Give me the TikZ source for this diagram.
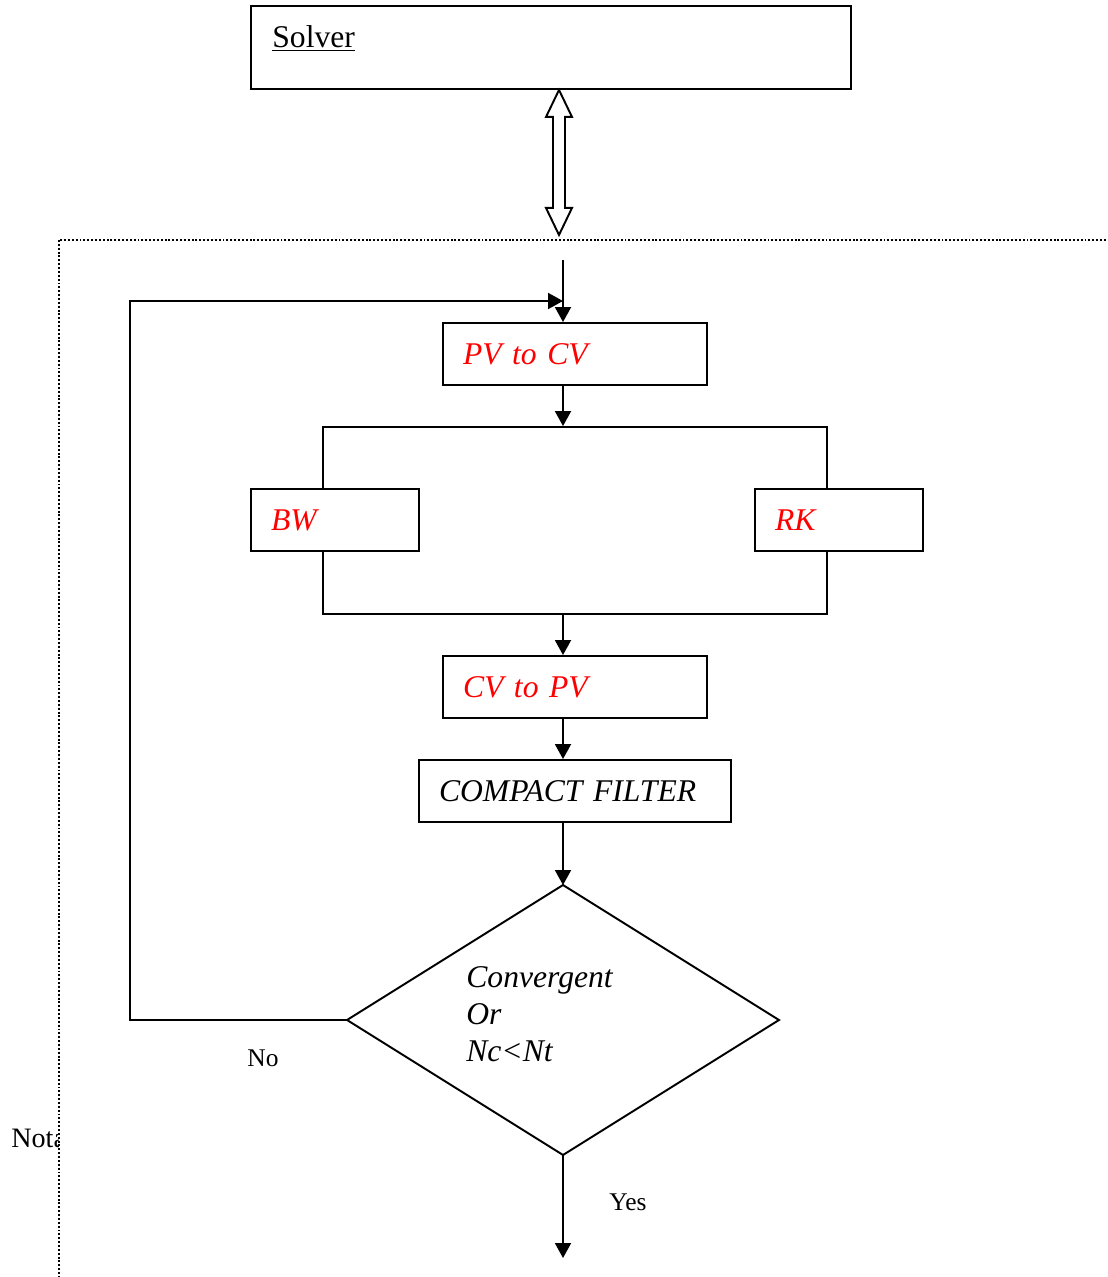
\documentclass[tikz,border=0pt]{standalone}
\usepackage{fontspec}
\setmainfont{Liberation Serif}
\usetikzlibrary{arrows.meta,shapes.geometric}

\begin{document}
\begin{tikzpicture}
[x=0.02cm,y=-0.02cm,
  boxDecorate/.style={shape=rectangle,draw,fill=white,line width=1.1pt,inner sep=0pt,
    minimum height=1.24cm,align=left,font=\fontsize{18}{22}\selectfont\itshape},
  lineDecorate/.style={-,line width=1.1pt},
  arrowDecorate/.style={-{Triangle[length=0.3cm,width=0.32cm]},line width=1.1pt},
  frameDecorate/.style={line width=1.1pt,dash pattern=on 1.1pt off 1.1pt},
  labelDecorate/.style={inner sep=0pt,font=\fontsize{14.5}{17}\selectfont}]
\useasboundingbox (0,0) rectangle (1107,1277);
%% text behind the frame
\node (nota) at (11,1147) [anchor=base west,inner sep=0pt,font=\fontsize{16}{19}\selectfont] {Nota};
\draw[frameDecorate,fill=white] (59,240) rectangle (1140,1300);
%% solver
\node (solver) at (551,47.5) [boxDecorate,minimum width=12cm,minimum height=1.66cm] {};
\node (solverText) at (272,48) [anchor=base west,inner sep=0pt,font=\fontsize{18}{22}\selectfont] {\underline{Solver}};
\coordinate (linkTop) at (solver.south -| 559,0);
\draw[lineDecorate,line join=miter] (linkTop) -- ++(13,27) -- ++(-7,0) -- ++(0,91) -- ++(7,0)
  -- ++(-13,27) -- ++(-13,-27) -- ++(7,0) -- ++(0,-91) -- ++(-7,0) -- cycle;
%% helper points
\coordinate (entry) at (563,260);
\coordinate (loopTop) at (130,301);
\coordinate (exit) at (563,1258);
%% nodes
\node (branch) at (575,520.5) [draw,line width=1.1pt,minimum width=10.08cm,minimum height=3.74cm,inner sep=0pt] {};
\foreach \nodename/\x/\y/\w/\t/\txt in {
  pvcv/575/354/5.28/4.48/PV to CV, bw/335/520/3.36/2.56/BW,
  rk/839/520/3.36/2.56/RK, cvpv/575/687/5.28/4.48/CV to PV}
{
  \node (\nodename) at (\x,\y) [boxDecorate,minimum width=\w cm,text width=\t cm,text=red] {\txt};
}
\node (filter) at (575,791) [boxDecorate,minimum width=6.24cm,text width=5.44cm] {COMPACT FILTER};
\node (dec) at (563,1020) [shape=diamond,draw,line width=1.1pt,minimum width=8.64cm,minimum height=5.4cm,inner sep=0pt,outer sep=0pt] {};
\node (decText) at (466,1014) [anchor=west,align=left,inner sep=0pt,font=\fontsize{18}{21}\selectfont\itshape] {Convergent\\Or\\Nc<Nt};
\node (noLabel) at (263,1058) [labelDecorate] {No};
\node (yesLabel) at (628,1202) [labelDecorate] {Yes};
%% edges
\draw[arrowDecorate] (entry) -- (entry |- pvcv.north);
\draw[arrowDecorate] (dec.west) -| (loopTop) -- (entry |- loopTop);
\draw[arrowDecorate] (pvcv.south -| entry) -- (entry |- branch.north);
\draw[arrowDecorate] (entry |- branch.south) -- (entry |- cvpv.north);
\draw[arrowDecorate] (cvpv.south -| entry) -- (entry |- filter.north);
\draw[arrowDecorate] (filter.south -| entry) -- (dec.north);
\draw[arrowDecorate] (dec.south) -- (exit);
\end{tikzpicture}
\end{document}
